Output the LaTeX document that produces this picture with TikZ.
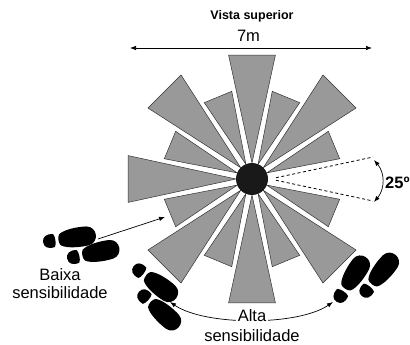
\documentclass[tikz,border=0pt]{standalone}
\usepackage{fontspec}
\setmainfont{Liberation Sans}
\usetikzlibrary{arrows.meta, positioning, calc}

\definecolor{beamgray}{RGB}{153,153,153}

\tikzset{
  footprint/.pic = {
    % heel
    \fill[black] (3,-6.5) .. controls (-4,-8) and (-8,-5) .. (-8,0)
      .. controls (-8,5) and (-4,8) .. (3,6.5)
      .. controls (5,4) and (5,-4) .. (3,-6.5) -- cycle;
    % sole
    \fill[black] (9,-5.5) .. controls (14,-9.5) and (28,-10.5) .. (37,-9.5)
      .. controls (48,-8) and (48,8) .. (37,9.5)
      .. controls (28,10.5) and (14,9.5) .. (9,5.5)
      .. controls (7,3) and (7,-3) .. (9,-5.5) -- cycle;
  }
}

\begin{document}
\begin{tikzpicture}[
  x=1pt, y=-1pt,
  beam/.style = {draw=black!80, line width=0.5pt, fill=beamgray},
  hub/.style = {circle, fill=black!90, minimum size=32pt, inner sep=0pt},
  zone/.style = {line width=0.8pt, dash pattern=on 3pt off 2.5pt},
  arrow/.style = {line width=0.7pt, -{Latex[length=6pt,width=4.5pt]}},
  dblarrow/.style = {line width=0.7pt, {Latex[length=6pt,width=4.5pt]}-{Latex[length=6pt,width=4.5pt]}},
  txt/.style = {font=\fontsize{16.5}{19}\selectfont, inner sep=0pt, anchor=base}
]
  \useasboundingbox (0,0) rectangle (410,345);

  % sensor beams
  \coordinate (c) at (252,179);
  \foreach \k in {1,...,15}{
    \pgfmathsetmacro{\a}{\k*22.5}
    \ifodd\k
      \draw[beam] ($(c)+(\a:16)$) -- ($(c)+({\a-9.5}:90)$) -- ($(c)+({\a+9.5}:90)$) -- cycle;
    \else
      \draw[beam] ($(c)+(\a:16)$) -- ($(c)+({\a-10.7}:126)$) -- ($(c)+({\a+10.7}:126)$) -- cycle;
    \fi
  }
  \node[hub] (hub) at (c) {};

  % empty zone and its angle
  \coordinate (zA) at ($(c)+(3:24)$);
  \coordinate (zB) at ($(c)+(-3:24)$);
  \coordinate (zT) at ($(c)+(10.3:123)$);
  \coordinate (zU) at ($(c)+(-10.3:123)$);
  \draw[zone] (zA) -- (zT);
  \draw[zone] (zB) -- (zU);
  \coordinate (angT) at (374,160);
  \coordinate (angB) at (374,202);
  \draw[dblarrow] (angT) .. controls (385,173) and (385,189) .. (angB);
  \node[txt, anchor=base west, font=\bfseries\fontsize{16.5}{19}\selectfont] (ang) at (385,188) {25º};

  % width
  \node[txt, font=\bfseries\fontsize{12.5}{15}\selectfont] (title) at (252,20) {Vista superior};
  \node[txt] (width) at (248.5,42) {7m};
  \coordinate (wL) at (130,48);
  \coordinate (wR) at (372,48);
  \draw[dblarrow] (wL) -- (wR);

  % footprints
  \pic[rotate=8] (stepA) at (51,241) {footprint};
  \pic[rotate=12] (stepB) at (75,257) {footprint};
  \pic[rotate=-37] (stepC) at (140,271) {footprint};
  \pic[rotate=-42] (stepD) at (145,297) {footprint};
  \pic[rotate=57] (stepE) at (341,295) {footprint};
  \pic[rotate=51] (stepF) at (367,290) {footprint};

  % low sensitivity
  \coordinate (baixaS) at (98,239);
  \coordinate (baixaT) at (165,217);
  \draw[arrow] (baixaS) -- (baixaT);
  \node[txt] (baixa) at (60,280) {Baixa};
  \node[txt] (baixasens) at (60,298) {sensibilidade};

  % high sensitivity
  \coordinate (altaL) at (170,302);
  \coordinate (altaR) at (333,302);
  \draw[dblarrow] (altaL) .. controls (205,326) and (298,326) .. (altaR);
  \node[txt, fill=white, inner sep=2pt] (alta) at (252,321) {Alta};
  \node[txt] (altasens) at (252,341) {sensibilidade};
\end{tikzpicture}
\end{document}
